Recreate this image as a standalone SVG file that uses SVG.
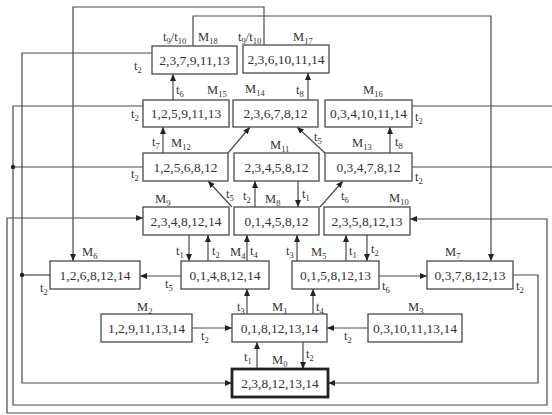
<svg xmlns="http://www.w3.org/2000/svg" width="552" height="415" viewBox="0 0 552 415">
<style>
.bx{fill:#fff;stroke:#4a4a4a;stroke-width:1.3}
.b0{fill:#fff;stroke:#222;stroke-width:2.8}
.t{font-family:"Liberation Serif",serif;font-size:13.5px;fill:#333;text-anchor:middle}
.l{font-family:"Liberation Serif",serif;font-size:12.5px;fill:#333}
.s{font-size:8.5px}
.ln{fill:none;stroke:#4a4a4a;stroke-width:1.2}
.a{marker-end:url(#ar)}
</style>
<defs>
<marker id="ar" markerUnits="userSpaceOnUse" markerWidth="8" markerHeight="7" refX="7" refY="3" orient="auto"><path d="M0,0 L7,3 L0,6 z" fill="#222"/></marker>
</defs>
<rect width="552" height="415" fill="#fff"/>
<g id="connectors">
<path class="ln a" d="M173,100 V74"/>
<path class="ln a" d="M308,100 V73"/>
<path class="ln a" d="M163,153 V127"/>
<path class="ln a" d="M228,153 L250,127"/>
<path class="ln a" d="M325,153 L297,127"/>
<path class="ln a" d="M390,153 V127"/>
<path class="ln a" d="M232,207 L208,181"/>
<path class="ln a" d="M255,207 V181"/>
<path class="ln a" d="M298,181 V207"/>
<path class="ln a" d="M320,207 L343,181"/>
<path class="ln a" d="M189,235 V261"/>
<path class="ln a" d="M208,261 V235"/>
<path class="ln a" d="M247,261 V235"/>
<path class="ln a" d="M297,261 V235"/>
<path class="ln a" d="M346,261 V235"/>
<path class="ln a" d="M367,235 V261"/>
<path class="ln a" d="M181,276 H140"/>
<path class="ln a" d="M379,276 H427"/>
<path class="ln a" d="M247,314 V289"/>
<path class="ln a" d="M313,314 V289"/>
<path class="ln a" d="M192,328 H232"/>
<path class="ln a" d="M368,328 H327"/>
<path class="ln a" d="M257,369 V342"/>
<path class="ln a" d="M303,342 V369"/>
<path class="ln a" d="M193,46 V16 H491 V261"/>
<path class="ln a" d="M264,45 V7 H73 V261"/>
<path class="ln a" d="M152,53 H22 V383 H232"/>
<path class="ln" d="M50,275 H22"/>
<path class="ln a" d="M143,106 H13 V405 H547 V219 H410"/>
<path class="ln" d="M143,167 H13"/>
<path class="ln" d="M412,106 H552"/>
<path class="ln" d="M412,167 H552"/>
<path class="ln a" d="M552,413 H7 V218 H143"/>
<path class="ln a" d="M513,275 H538 V383 H328"/>
<circle cx="22" cy="275" r="2.2" fill="#222"/>
<circle cx="13" cy="167" r="2.2" fill="#222"/>
<text class="l" x="176" y="94">t<tspan class="s" dy="3">6</tspan></text>
<text class="l" x="296" y="94">t<tspan class="s" dy="3">8</tspan></text>
<text class="l" x="152" y="146">t<tspan class="s" dy="3">7</tspan></text>
<text class="l" x="314" y="141">t<tspan class="s" dy="3">5</tspan></text>
<text class="l" x="395" y="146">t<tspan class="s" dy="3">8</tspan></text>
<text class="l" x="226" y="198">t<tspan class="s" dy="3">5</tspan></text>
<text class="l" x="243" y="200">t<tspan class="s" dy="3">2</tspan></text>
<text class="l" x="302" y="198">t<tspan class="s" dy="3">1</tspan></text>
<text class="l" x="341" y="200">t<tspan class="s" dy="3">6</tspan></text>
<text class="l" x="176" y="255">t<tspan class="s" dy="3">1</tspan></text>
<text class="l" x="212" y="255">t<tspan class="s" dy="3">2</tspan></text>
<text class="l" x="250" y="255">t<tspan class="s" dy="3">4</tspan></text>
<text class="l" x="286" y="255">t<tspan class="s" dy="3">3</tspan></text>
<text class="l" x="349" y="255">t<tspan class="s" dy="3">1</tspan></text>
<text class="l" x="371" y="253">t<tspan class="s" dy="3">2</tspan></text>
<text class="l" x="165" y="288">t<tspan class="s" dy="3">5</tspan></text>
<text class="l" x="382" y="290">t<tspan class="s" dy="3">6</tspan></text>
<text class="l" x="237" y="311">t<tspan class="s" dy="3">3</tspan></text>
<text class="l" x="316" y="311">t<tspan class="s" dy="3">4</tspan></text>
<text class="l" x="201" y="340">t<tspan class="s" dy="3">2</tspan></text>
<text class="l" x="344" y="340">t<tspan class="s" dy="3">2</tspan></text>
<text class="l" x="244" y="361">t<tspan class="s" dy="3">1</tspan></text>
<text class="l" x="306" y="358">t<tspan class="s" dy="3">2</tspan></text>
<text class="l" x="163" y="41">t<tspan class="s" dy="3">9</tspan><tspan dy="-3">/t</tspan><tspan class="s" dy="3">10</tspan></text>
<text class="l" x="238" y="41">t<tspan class="s" dy="3">9</tspan><tspan dy="-3">/t</tspan><tspan class="s" dy="3">10</tspan></text>
<text class="l" x="134" y="70">t<tspan class="s" dy="3">2</tspan></text>
<text class="l" x="40" y="292">t<tspan class="s" dy="3">2</tspan></text>
<text class="l" x="131" y="118">t<tspan class="s" dy="3">2</tspan></text>
<text class="l" x="131" y="178">t<tspan class="s" dy="3">2</tspan></text>
<text class="l" x="415" y="121">t<tspan class="s" dy="3">2</tspan></text>
<text class="l" x="415" y="181">t<tspan class="s" dy="3">2</tspan></text>
<text class="l" x="516" y="290">t<tspan class="s" dy="3">2</tspan></text>
</g>
<g id="M0"><rect class="b0" x="232" y="369" width="96" height="28"/><text class="t" x="280" y="388">2,3,8,12,13,14</text><text class="l" x="272" y="364">M<tspan class="s" dy="3">0</tspan></text></g>
<g id="M1"><rect class="bx" x="232" y="314" width="95" height="28"/><text class="t" x="279.5" y="333">0,1,8,12,13,14</text><text class="l" x="272" y="311">M<tspan class="s" dy="3">1</tspan></text></g>
<g id="M2"><rect class="bx" x="101" y="314" width="91" height="28"/><text class="t" x="146.5" y="333">1,2,9,11,13,14</text><text class="l" x="137" y="311">M<tspan class="s" dy="3">2</tspan></text></g>
<g id="M3"><rect class="bx" x="368" y="314" width="94" height="28"/><text class="t" x="415" y="333">0,3,10,11,13,14</text><text class="l" x="408" y="311">M<tspan class="s" dy="3">3</tspan></text></g>
<g id="M4"><rect class="bx" x="181" y="261" width="88" height="28"/><text class="t" x="225" y="280">0,1,4,8,12,14</text><text class="l" x="230" y="256">M<tspan class="s" dy="3">4</tspan></text></g>
<g id="M5"><rect class="bx" x="292" y="261" width="87" height="28"/><text class="t" x="335.5" y="280">0,1,5,8,12,13</text><text class="l" x="311" y="256">M<tspan class="s" dy="3">5</tspan></text></g>
<g id="M6"><rect class="bx" x="50" y="261" width="90" height="28"/><text class="t" x="95" y="280">1,2,6,8,12,14</text><text class="l" x="82" y="256">M<tspan class="s" dy="3">6</tspan></text></g>
<g id="M7"><rect class="bx" x="427" y="261" width="86" height="28"/><text class="t" x="470" y="280">0,3,7,8,12,13</text><text class="l" x="445" y="256">M<tspan class="s" dy="3">7</tspan></text></g>
<g id="M8"><rect class="bx" x="234" y="207" width="85" height="28"/><text class="t" x="276.5" y="226">0,1,4,5,8,12</text><text class="l" x="265" y="203">M<tspan class="s" dy="3">8</tspan></text></g>
<g id="M9"><rect class="bx" x="143" y="207" width="86" height="28"/><text class="t" x="186" y="226">2,3,4,8,12,14</text><text class="l" x="155" y="203">M<tspan class="s" dy="3">9</tspan></text></g>
<g id="M10"><rect class="bx" x="324" y="207" width="86" height="28"/><text class="t" x="367" y="226">2,3,5,8,12,13</text><text class="l" x="389" y="202">M<tspan class="s" dy="3">10</tspan></text></g>
<g id="M11"><rect class="bx" x="234" y="153" width="85" height="28"/><text class="t" x="276.5" y="172">2,3,4,5,8,12</text><text class="l" x="270" y="149">M<tspan class="s" dy="3">11</tspan></text></g>
<g id="M12"><rect class="bx" x="143" y="153" width="85" height="28"/><text class="t" x="185.5" y="172">1,2,5,6,8,12</text><text class="l" x="171" y="147">M<tspan class="s" dy="3">12</tspan></text></g>
<g id="M13"><rect class="bx" x="325" y="153" width="87" height="28"/><text class="t" x="368.5" y="172">0,3,4,7,8,12</text><text class="l" x="352" y="147">M<tspan class="s" dy="3">13</tspan></text></g>
<g id="M14"><rect class="bx" x="233" y="100" width="85" height="27"/><text class="t" x="275.5" y="118">2,3,6,7,8,12</text><text class="l" x="245" y="93">M<tspan class="s" dy="3">14</tspan></text></g>
<g id="M15"><rect class="bx" x="143" y="100" width="86" height="27"/><text class="t" x="186" y="118">1,2,5,9,11,13</text><text class="l" x="207" y="94">M<tspan class="s" dy="3">15</tspan></text></g>
<g id="M16"><rect class="bx" x="325" y="100" width="87" height="27"/><text class="t" x="368.5" y="118">0,3,4,10,11,14</text><text class="l" x="363" y="94">M<tspan class="s" dy="3">16</tspan></text></g>
<g id="M17"><rect class="bx" x="243" y="45" width="86" height="28"/><text class="t" x="286" y="64">2,3,6,10,11,14</text><text class="l" x="293" y="41">M<tspan class="s" dy="3">17</tspan></text></g>
<g id="M18"><rect class="bx" x="152" y="46" width="85" height="28"/><text class="t" x="194.5" y="65">2,3,7,9,11,13</text><text class="l" x="198" y="41">M<tspan class="s" dy="3">18</tspan></text></g>
</svg>
